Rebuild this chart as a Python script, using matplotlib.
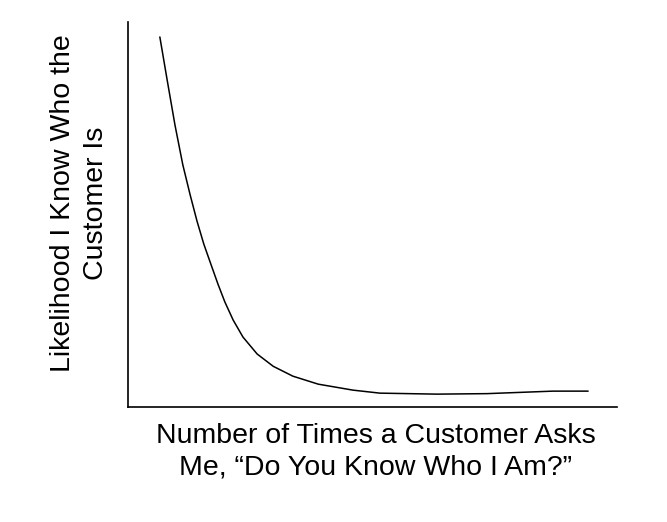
import matplotlib
matplotlib.use('Agg')
import matplotlib.pyplot as plt

# values (x: times asked, y: likelihood in %)
times_asked = [0.65, 0.80, 0.96, 1.12, 1.27, 1.41, 1.55, 1.70, 1.84, 1.98, 2.15, 2.35,
               2.64, 2.97, 3.37, 3.89, 4.60, 5.15, 6.32, 7.34, 8.69, 9.41]
likelihood = [96.1, 84.9, 73.2, 62.9, 55.1, 48.3, 42.3, 36.9, 31.9, 27.3, 22.6, 18.2,
              13.8, 10.6, 8.05, 5.97, 4.42, 3.64, 3.38, 3.51, 4.16, 4.16]

x_label = 'Number of Times a Customer Asks\nMe, \u201cDo You Know Who I Am?\u201d'
y_label = 'Likelihood I Know Who the\nCustomer Is'

plt.rcParams['font.family'] = ['Liberation Sans', 'DejaVu Sans']

fig = plt.figure(figsize=(6.67, 5.22), dpi=100)
ax = fig.add_axes([0.192, 0.220, 0.733, 0.738])

ax.plot(times_asked, likelihood, color='black', linewidth=1.1,
        solid_joinstyle='round', solid_capstyle='round')

ax.set_xlim(0, 10)
ax.set_ylim(0, 100)
ax.set_xticks([])
ax.set_yticks([])
for side in ['top', 'right']:
    ax.spines[side].set_visible(False)
for side in ['left', 'bottom']:
    ax.spines[side].set_linewidth(1.2)
    ax.spines[side].set_color('black')

ax.set_xlabel(x_label, fontsize=20.5, linespacing=1.3)
ax.set_ylabel(y_label, fontsize=20.5, linespacing=1.35)
ax.xaxis.set_label_coords(0.506, -0.04)
ax.yaxis.set_label_coords(-0.04, 0.53)

fig.savefig('out.png', dpi=100)
